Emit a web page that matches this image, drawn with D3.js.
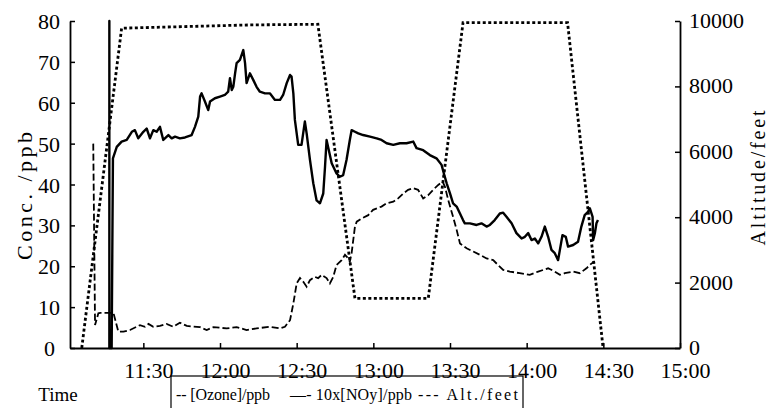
<!DOCTYPE html>
<html>
<head>
<meta charset="utf-8">
<script src="https://cdn.jsdelivr.net/npm/d3@7"></script>
<style>
  body { margin: 0; background: #fff; }
  text { font-family: "Liberation Serif", serif; fill: #000; }
</style>
</head>
<body>
<svg id="chart" width="770" height="408"></svg>
<script>
// times are minutes after 11:00
const ozone = [
  [16.7, 0], [16.7, 80], [16.7, 0], [17.6, 0], [18.1, 46.4], [19.6, 49.2], [21.5, 50.5],
  [23.5, 50.9], [25.5, 52.9], [26.7, 53.3], [28.0, 51.3], [30.0, 52.9], [31.3, 53.7],
  [32.6, 51.3], [33.9, 53.3], [35.2, 52.9], [36.5, 54.1], [37.8, 50.9], [39.8, 52.1],
  [41.1, 51.3], [42.4, 51.7], [44.3, 51.3], [46.3, 51.5], [48.9, 52.1], [50.2, 54.1],
  [51.5, 56.6], [52.2, 61.5], [52.8, 62.3], [54.1, 60.3], [55.4, 58.2], [56.1, 60.3],
  [58.0, 61.1], [60.0, 61.5], [61.9, 61.9], [63.2, 62.7], [63.9, 66.0], [64.6, 63.1],
  [65.2, 63.9], [65.9, 67.2], [66.5, 69.7], [67.8, 70.5], [69.1, 72.9], [69.8, 69.7],
  [70.4, 64.8], [71.7, 67.2], [73.0, 65.6], [74.3, 63.9], [75.6, 62.7], [77.6, 62.3],
  [79.5, 62.3], [81.5, 60.7], [83.5, 60.7], [84.7, 61.9], [86.1, 64.8], [87.4, 66.8],
  [88.0, 66.4], [88.7, 62.3], [89.3, 55.8], [90.6, 49.7], [91.9, 49.7], [93.2, 55.4],
  [93.9, 52.5], [95.2, 46.0], [96.5, 40.3], [97.8, 36.1], [99.1, 35.4], [100.4, 37.8],
  [101.1, 44.4], [101.7, 50.9], [102.3, 49.2], [103.7, 45.2], [105.6, 42.7], [106.9, 41.9],
  [108.2, 42.3], [109.5, 46.0], [110.8, 50.9], [111.5, 53.3], [112.8, 52.9], [114.1, 52.5],
  [116.0, 52.1], [118.7, 51.7], [121.3, 51.3], [123.2, 50.9], [125.2, 50.1], [127.8, 49.7],
  [130.4, 50.1], [133.0, 50.1], [135.6, 50.5], [136.9, 48.9], [139.5, 48.4], [142.1, 47.2],
  [144.7, 46.4], [146.7, 44.8], [147.6, 42.7], [148.7, 40.3], [150.0, 37.8], [151.2, 35.4],
  [152.6, 34.6], [153.9, 32.9], [155.1, 31.3], [155.8, 30.5], [157.8, 30.5], [160.4, 30.1],
  [162.3, 30.5], [164.3, 29.7], [165.6, 30.1], [167.5, 31.3], [169.5, 32.9], [170.8, 33.1],
  [172.1, 32.1], [174.1, 30.5], [176.0, 28.1], [178.0, 26.8], [179.3, 27.2], [180.6, 28.1],
  [181.9, 26.4], [183.2, 26.8], [184.5, 25.6], [185.8, 27.2], [187.1, 29.7], [188.4, 27.2],
  [189.7, 24.0], [191.0, 23.2], [192.3, 21.5], [193.0, 24.0], [194.0, 27.6], [195.3, 27.2],
  [196.2, 24.8], [198.2, 25.2], [200.1, 26.0], [201.4, 29.7], [202.7, 32.5], [204.0, 33.3],
  [204.7, 34.2], [205.8, 32.1], [206.0, 26.4], [206.7, 28.1], [207.3, 30.5], [207.9, 31.3]
];

const noy = [
  [10.4, 50], [11.1, 5.6], [12.4, 8.5], [13.1, 8.6], [18.3, 8.6], [20.2, 4.0], [22.2, 4.0],
  [24.8, 4.4], [28.7, 5.6], [30.6, 5.2], [32.0, 5.9], [33.9, 5.2], [36.5, 5.4], [39.1, 5.9],
  [41.7, 5.2], [44.3, 6.2], [47.0, 5.4], [52.2, 5.1], [54.8, 4.4], [57.4, 5.1], [62.6, 4.8],
  [66.5, 5.1], [70.4, 4.4], [74.3, 4.8], [79.5, 5.2], [83.5, 4.8], [85.4, 5.2], [87.4, 6.8],
  [88.7, 10.9], [90.0, 15.8], [91.3, 17.1], [92.6, 16.2], [93.9, 15.0], [95.2, 16.6],
  [97.1, 17.4], [98.4, 17.1], [99.8, 17.9], [101.7, 17.1], [103.0, 15.8], [104.3, 17.4],
  [105.6, 20.3], [107.6, 21.5], [108.9, 22.8], [110.2, 21.9], [110.8, 21.1], [111.5, 23.2],
  [112.8, 29.7], [113.5, 30.9], [115.4, 31.7], [118.0, 32.5], [119.9, 33.8], [123.2, 34.6],
  [125.2, 35.4], [127.8, 35.8], [129.7, 36.6], [131.7, 37.8], [133.6, 38.7], [135.6, 39.1],
  [137.5, 38.7], [139.5, 36.6], [141.5, 37.4], [143.4, 38.7], [145.4, 39.9], [147.1, 40.7],
  [148.0, 39.5], [149.3, 36.2], [151.2, 32.1], [152.6, 28.9], [153.9, 25.6], [156.5, 24.4],
  [159.1, 23.6], [161.7, 22.8], [164.3, 21.9], [166.9, 21.5], [168.8, 20.3], [170.8, 19.1],
  [173.4, 18.7], [177.3, 18.3], [181.2, 17.9], [184.5, 18.7], [188.4, 19.5], [191.0, 18.7],
  [193.0, 17.9], [194.9, 18.3], [198.2, 18.7], [200.8, 18.3], [203.4, 19.5], [205.4, 20.7],
  [206.7, 21.1]
];

const altitude = [
  [5.9, 0], [21.5, 9780], [71.7, 9880], [98.3, 9900], [112.8, 1520], [141.5, 1520],
  [155.1, 9950], [196.0, 9950], [209.9, 0]
];

const concTicks = [0, 10, 20, 30, 40, 50, 60, 70, 80];
const altTicks = [0, 2000, 4000, 6000, 8000, 10000];
const timeTicks = ["11:30", "12:00", "12:30", "13:00", "13:30", "14:00", "14:30", "15:00"];
const legendItems = [["--", "[Ozone]/ppb"], ["\u2014-", "10x[NOy]/ppb"], ["---", "Alt./feet"]];

const svg = d3.select("#chart");
const plotL = 70, plotR = 680, plotT = 21, plotB = 348;

const base = new Date(2000, 0, 1, 11, 0);
const toTime = m => new Date(base.getTime() + m * 60000);
const parseHM = d3.timeParse("%H:%M");
const asDay = s => { const d = parseHM(s); return new Date(2000, 0, 1, d.getHours(), d.getMinutes()); };

const x = d3.scaleTime().domain([toTime(1.3), toTime(240)]).range([plotL, plotR]);
const yConc = d3.scaleLinear().domain([0, 80]).range([plotB, plotT]);
const yAlt = d3.scaleLinear().domain([0, 10000]).range([plotB, plotT]);

// axes, ticks pointing inward
const gx = svg.append("g").attr("transform", `translate(0,${plotB})`)
  .call(d3.axisBottom(x).tickValues(timeTicks.map(asDay)).tickFormat(d3.timeFormat("%H:%M"))
    .tickSize(-5).tickSizeOuter(0));
gx.selectAll("text").attr("y", 30).attr("dy", 0).attr("x", 5);

const gl = svg.append("g").attr("transform", `translate(${plotL},0)`)
  .call(d3.axisLeft(yConc).tickValues(concTicks).tickSize(-5).tickSizeOuter(0));
gl.selectAll("text").attr("x", d => d === 0 ? -15 : -10).attr("dy", 0).attr("y", 7.5);

const gr = svg.append("g").attr("transform", `translate(${plotR},0)`)
  .call(d3.axisRight(yAlt).tickValues(altTicks).tickFormat(d3.format("d"))
    .tickSize(-5).tickSizeOuter(0));
gr.selectAll("text").attr("x", 9).attr("dy", 0).attr("y", 6.5);

svg.selectAll(".domain").attr("stroke", "#000").attr("stroke-width", 1.8);
svg.selectAll(".tick line").attr("stroke", "#000").attr("stroke-width", 1.5);
svg.selectAll(".tick text").attr("font-family", "Liberation Serif").attr("font-size", 22)
  .attr("fill", "#000");

// axis titles
svg.append("text").attr("transform", "translate(32,196) rotate(-90)")
  .attr("text-anchor", "middle").attr("font-size", 22)
  .attr("textLength", 128).attr("lengthAdjust", "spacing").text("Conc. /ppb");
svg.append("text").attr("transform", "translate(765,178) rotate(-90)")
  .attr("text-anchor", "middle").attr("font-size", 20)
  .attr("textLength", 135).attr("lengthAdjust", "spacing").text("Altitude/feet");
svg.append("text").attr("x", 58).attr("y", 401)
  .attr("text-anchor", "middle").attr("font-size", 19).text("Time");

// series
const line = y => d3.line().x(d => x(toTime(d[0]))).y(d => y(d[1]));

svg.append("path").datum(altitude).attr("d", line(yAlt))
  .attr("fill", "none").attr("stroke", "#000").attr("stroke-width", 2.8)
  .attr("stroke-dasharray", "3,2.5");

svg.append("path").datum(noy).attr("d", line(yConc))
  .attr("fill", "none").attr("stroke", "#000").attr("stroke-width", 1.8)
  .attr("stroke-dasharray", "7,3");

svg.append("path").datum(ozone).attr("d", line(yConc))
  .attr("fill", "none").attr("stroke", "#000").attr("stroke-width", 2.4)
  .attr("stroke-linejoin", "round");

// legend box
svg.append("rect").attr("x", 171).attr("y", 376).attr("width", 352).attr("height", 40)
  .attr("fill", "none").attr("stroke", "#000").attr("stroke-width", 1.2);

const legendX = [176, 290, 418];
const legendW = [94, 122, 100];
const lg = svg.append("g");
legendItems.forEach((item, i) => {
  lg.append("text").attr("x", legendX[i]).attr("y", 400)
    .attr("font-size", 16).attr("xml:space", "preserve")
    .attr("textLength", legendW[i]).attr("lengthAdjust", "spacing")
    .text(item[0] + " " + item[1]);
});
</script>
</body>
</html>
